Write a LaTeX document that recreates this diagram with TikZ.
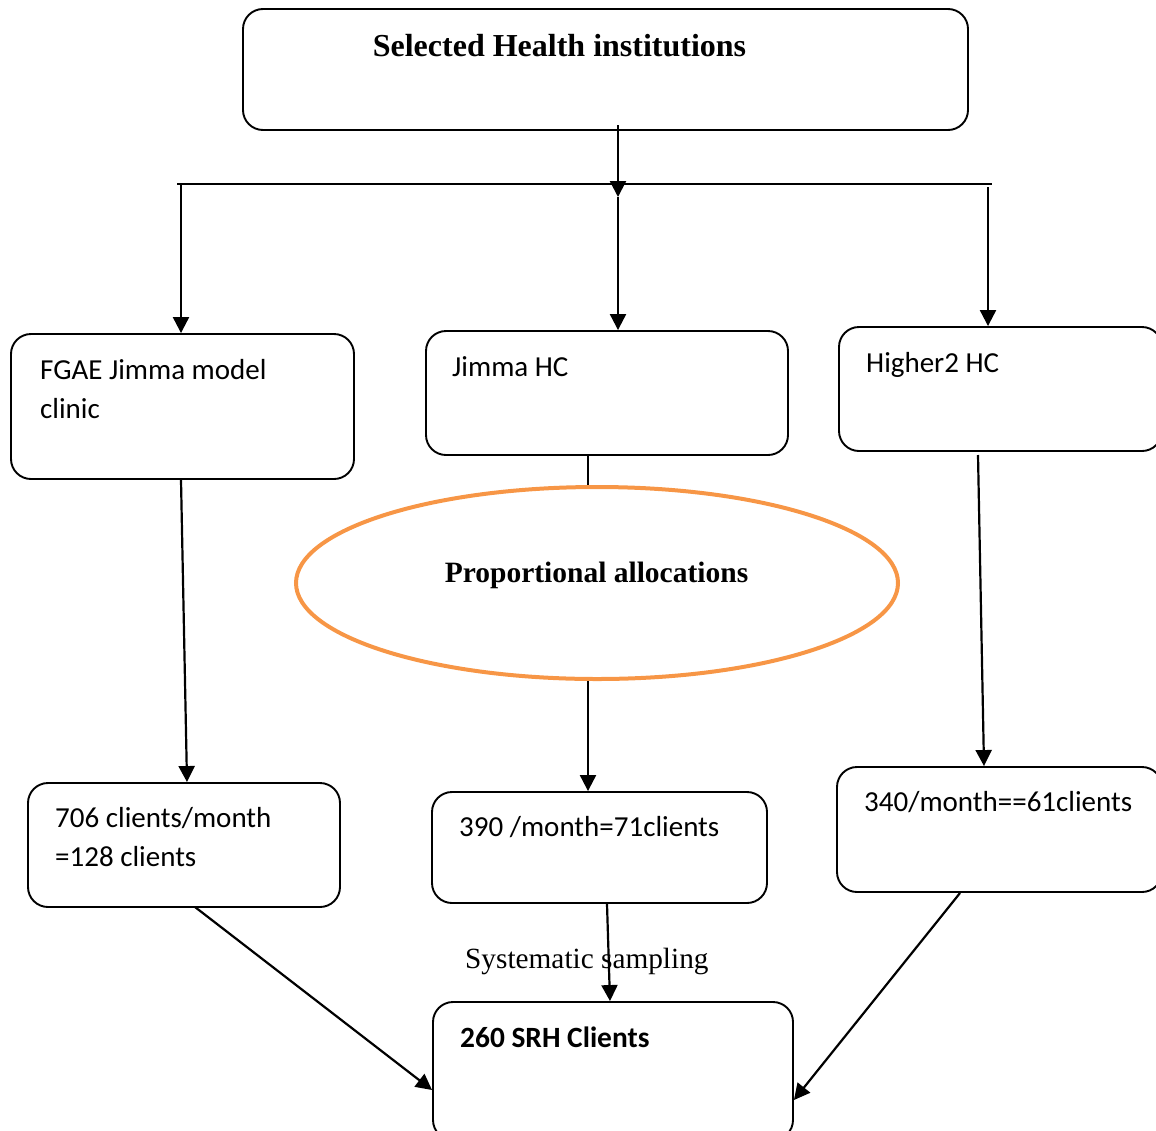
\documentclass[tikz,border=0pt]{standalone}
\usepackage{fontspec}
\setmainfont{Liberation Serif}
\newfontfamily\calibrifont{Carlito}
\usetikzlibrary{arrows.meta,shapes.geometric,calc}
\definecolor{ellorange}{RGB}{247,150,70}
\begin{document}
\begin{tikzpicture}[x=1pt,y=-1pt,
  box/.style={draw,line width=1.9pt,rounded corners=20pt,minimum width=#1,inner sep=0pt},
  txt/.style={anchor=base west,inner sep=0pt,font=\calibrifont\fontsize{29}{33}\selectfont},
  conn/.style={line width=2.2pt},
  arr/.style={line width=2.2pt,-{Triangle[length=16pt,width=16pt]}},
]
\useasboundingbox (0,0) rectangle (1156,1130);
% boxes
\node[box=725pt,minimum height=121pt] (top) at (605.5,69.5) {};
\node[box=343pt,minimum height=145pt] (fgae) at (182.5,406.5) {};
\node[box=362pt,minimum height=124pt] (jimma) at (607,393) {};
\node[box=323pt,minimum height=124pt] (higher) at (1000.5,389) {};
\node[box=312pt,minimum height=124pt] (b706) at (184,845) {};
\node[box=335pt,minimum height=111pt] (b390) at (599.5,847.5) {};
\node[box=325pt,minimum height=125pt] (b340) at (999.5,829.5) {};
\node[box=360pt,minimum height=138pt] (b260) at (613,1071) {};
\node[draw=ellorange,line width=4pt,ellipse,minimum width=602pt,minimum height=192pt,inner sep=0pt] (ell) at (597,583) {};
% texts
\node[anchor=base,inner sep=0pt,font=\bfseries\fontsize{32}{36}\selectfont] (ttop) at (559.5,56) {Selected Health institutions};
\node[txt] (tf1) at (40,379) {FGAE Jimma model};
\node[txt] (tf2) at (40,418) {clinic};
\node[txt] (tj) at (452,376) {Jimma HC};
\node[txt] (th) at (866,372) {Higher2 HC};
\node[anchor=base,inner sep=0pt,font=\bfseries\fontsize{29.5}{33}\selectfont] (tell) at (596.5,582) {Proportional allocations};
\node[txt] (t7a) at (55,827) {706 clients/month};
\node[txt] (t7b) at (55,866) {=128 clients};
\node[txt] (t39) at (459,836) {390 /month=71clients};
\node[txt] (t34) at (864,811) {340/month==61clients};
\node[txt,font=\calibrifont\bfseries\fontsize{29.4}{33}\selectfont] (t26) at (460,1047) {260 SRH Clients};
\node[anchor=base west,inner sep=0pt,font=\fontsize{29.3}{33}\selectfont] (tsys) at (465,968) {Systematic sampling};
% distribution bar
\coordinate (barL) at (177,184);
\coordinate (barR) at (992,184);
\coordinate (hub) at (618,197);
\draw[line width=1.5pt] (barL) -- (barR);
\draw[arr] (618,125) -- (hub);
\draw[arr] (181,184) -- (fgae.north -| 181,0);
\draw[arr] (hub) -- (jimma.north -| 618,0);
\draw[arr] (988,187) -- (higher.north -| 988,0);
% down arrows
\draw[conn] (jimma.south -| 588,0) -- (ell.north -| 588,0);
\draw[arr] (ell.south -| 588,0) -- (b390.north -| 588,0);
\draw[arr] ([xshift=-1.5pt]fgae.south) -- (b706.north -| 187,0);
\draw[arr] (978,455) -- (b340.north -| 984,0);
\draw[arr] (b390.south -| 607,0) -- (b260.north -| 610,0);
\draw[arr] (195,907) -- (b260.west |- 0,1090);
\draw[arr] (960,893) -- (b260.east |- 0,1100);
\end{tikzpicture}
\end{document}
